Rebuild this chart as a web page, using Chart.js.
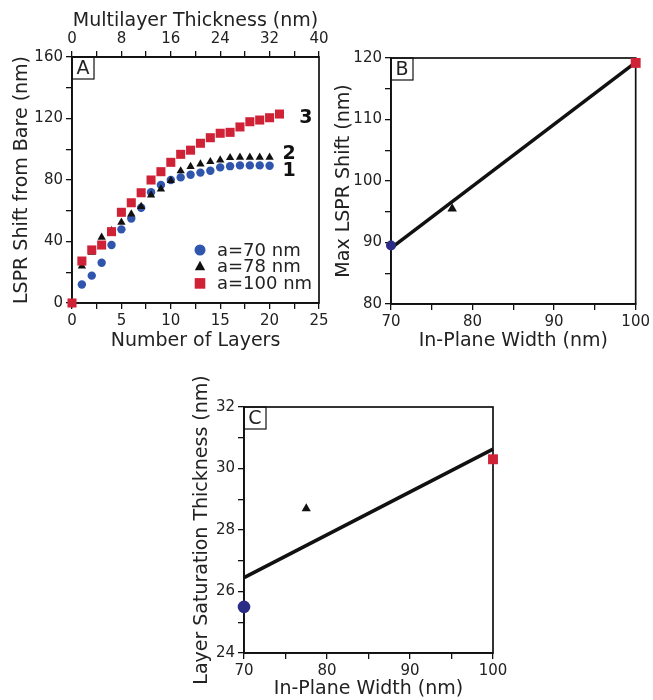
<!DOCTYPE html>
<html>
<head>
<meta charset="utf-8">
<script src="https://cdn.jsdelivr.net/npm/chart.js@4.4.1/dist/chart.umd.min.js"></script>
<style>
body { margin: 0; background: #fff; }
#wrap { position: relative; width: 653px; height: 700px; overflow: hidden; }
canvas { position: absolute; }
</style>
</head>
<body>
<div id="wrap">
  <canvas id="chartA" width="340" height="352" style="left:0px;top:0px"></canvas>
  <canvas id="chartB" width="323" height="352" style="left:330px;top:0px"></canvas>
  <canvas id="chartC" width="340" height="345" style="left:180px;top:355px"></canvas>
</div>
<script>
// panel A: LSPR shift vs number of layers
const layers20 = [0, 1, 2, 3, 4, 5, 6, 7, 8, 9, 10, 11, 12, 13, 14, 15, 16, 17, 18, 19, 20];
const layers21 = [0, 1, 2, 3, 4, 5, 6, 7, 8, 9, 10, 11, 12, 13, 14, 15, 16, 17, 18, 19, 20, 21];
const shift70 = [0, 12, 17.8, 26.2, 37.7, 47.9, 54.9, 62, 72, 76.7, 80, 81.7, 83.4, 84.8, 86, 88.2, 89, 89.5, 89.5, 89.5, 89.3];
const shift78 = [0, 24, 33, 42.7, 47, 52.5, 57.9, 62.7, 70.2, 74.1, 79.6, 85.9, 88.7, 90.4, 91.9, 93, 94.5, 94.8, 94.8, 94.8, 94.8];
const shift100 = [0, 27.3, 34.5, 37.7, 46.4, 59, 65.2, 71.7, 80, 85.4, 91.5, 96.7, 99.4, 103.9, 107.5, 110.4, 111, 114.5, 117.9, 119, 120.5, 122.9];
const seriesNames = ['a=70 nm', 'a=78 nm', 'a=100 nm'];
const curveLabels = ['1', '2', '3'];
const curveLabelX = [21.3, 21.3, 23.0];
const curveLabelY = [86, 97, 120.3];

// panels B and C: values vs in-plane width
const widths = [70, 77.5, 100];
const maxShift = [89.5, 95.5, 119.2];
const fitBx = [70, 100];
const fitBy = [89.1, 119.3];
const satThickness = [25.5, 28.7, 30.3];
const fitCx = [70, 100];
const fitCy = [26.45, 30.63];

const blueA = '#2f55ad';
const blueB = '#2b2c86';
const red = '#cf2237';
const black = '#111111';

Chart.defaults.font.family = '"DejaVu Sans", sans-serif';
Chart.defaults.color = '#222';
Chart.defaults.animation = false;

function pts(xs, ys) {
    return xs.map((x, i) => ({ x: x, y: ys[i] }));
}

function drawMarker(ctx, style, color, r, x, y) {
    ctx.fillStyle = color;
    ctx.beginPath();
    if (style === 'circle') {
        ctx.arc(x, y, r, 0, Math.PI * 2);
    } else if (style === 'triangle') {
        ctx.moveTo(x, y - r);
        ctx.lineTo(x + r * 0.866, y + r * 0.5 + 0.5);
        ctx.lineTo(x - r * 0.866, y + r * 0.5 + 0.5);
        ctx.closePath();
    } else {
        const s = r * Math.SQRT1_2;
        ctx.rect(x - s, y - s, 2 * s, 2 * s);
    }
    ctx.fill();
}

// fixed size for an axis box so that the plot areas line up with the reference
function fixSize(size) {
    return function (scale) {
        if (scale.isHorizontal()) scale.height = size;
        else scale.width = size;
    };
}

function axis(min, max, step, major, title, pos, boxSize, titlePad) {
    return {
        type: 'linear',
        position: pos,
        min: min,
        max: max,
        afterFit: fixSize(boxSize),
        grid: { drawOnChartArea: false, drawTicks: true, tickLength: 6, color: black, lineWidth: 1.3 },
        border: { color: black, width: 1.7 },
        ticks: {
            stepSize: step,
            autoSkip: false,
            maxRotation: 0,
            padding: 3,
            font: { size: 15 },
            callback: function (v) {
                return Math.abs(v % major) < 1e-6 ? v : '';
            }
        },
        title: { display: true, text: title, font: { size: 19 }, color: '#222', padding: titlePad }
    };
}

const framePlugin = {
    id: 'frame',
    beforeDatasetsDraw(chart, args, opts) {
        const ctx = chart.ctx;
        const a = chart.chartArea;
        ctx.save();
        ctx.strokeStyle = black;
        ctx.lineWidth = 1.7;
        ctx.strokeRect(a.left, a.top, a.right - a.left, a.bottom - a.top);
        ctx.lineWidth = 1.2;
        ctx.strokeRect(a.left, a.top, 22, 22);
        ctx.fillStyle = '#222';
        ctx.font = '19px "DejaVu Sans"';
        ctx.textAlign = 'center';
        ctx.textBaseline = 'middle';
        ctx.fillText(opts.letter, a.left + 11, a.top + 12);
        ctx.restore();
    }
};

const legendPlugin = {
    id: 'insideLegend',
    afterDatasetsDraw(chart) {
        const ctx = chart.ctx;
        const a = chart.chartArea;
        const styles = [['circle', blueA, 5.5], ['triangle', black, 6], ['rect', red, 7.5]];
        ctx.save();
        ctx.font = '18px "DejaVu Sans"';
        ctx.textAlign = 'left';
        ctx.textBaseline = 'middle';
        seriesNames.forEach((name, i) => {
            const y = a.top + 193 + i * 16.7;
            drawMarker(ctx, styles[i][0], styles[i][1], styles[i][2], a.left + 128, y);
            ctx.fillStyle = '#222';
            ctx.fillText(name, a.left + 145, y + 1);
        });
        // curve numbers next to the saturated ends
        ctx.font = 'bold 19px "DejaVu Sans"';
        ctx.fillStyle = '#111';
        curveLabels.forEach((t, i) => {
            ctx.fillText(t, chart.scales.x.getPixelForValue(curveLabelX[i]), chart.scales.y.getPixelForValue(curveLabelY[i]));
        });
        ctx.restore();
    }
};

new Chart(document.getElementById('chartA').getContext('2d'), {
    type: 'scatter',
    data: {
        datasets: [
            { data: pts(layers20, shift70), pointStyle: 'circle', pointRadius: 4.2, backgroundColor: blueA, borderWidth: 0, order: 2, clip: false },
            { data: pts(layers20, shift78), pointStyle: 'triangle', pointRadius: 4.8, backgroundColor: black, borderWidth: 0, order: 1, clip: false },
            { data: pts(layers21, shift100), pointStyle: 'rect', pointRadius: 6.4, backgroundColor: red, borderWidth: 0, order: 0, clip: false }
        ]
    },
    options: {
        responsive: false,
        devicePixelRatio: 1,
        layout: { padding: { left: 0, right: 21, top: 0, bottom: 0 } },
        plugins: { legend: { display: false }, tooltip: { enabled: false }, frame: { letter: 'A' } },
        scales: {
            x: axis(0, 25, 2.5, 5, 'Number of Layers', 'bottom', 49, { top: 0, bottom: 0 }),
            x2: axis(0, 40, 4, 8, 'Multilayer Thickness (nm)', 'top', 57, { top: 10, bottom: 0 }),
            y: axis(0, 160, 20, 40, 'LSPR Shift from Bare (nm)', 'left', 72, { top: 11, bottom: 0 })
        }
    },
    plugins: [framePlugin, legendPlugin]
});

function widthChart(id, letter, blue, ys, fitX, fitY, yMin, yMax, yStep, yMajor, yTitle, sizes, top, right, yPad, markers) {
    return new Chart(document.getElementById(id).getContext('2d'), {
        type: 'scatter',
        data: {
            datasets: [
                { data: [{ x: widths[0], y: ys[0] }], pointStyle: 'circle', pointRadius: markers[0], backgroundColor: blue, borderWidth: 0, order: 1, clip: false },
                { data: [{ x: widths[1], y: ys[1] }], pointStyle: 'triangle', pointRadius: markers[1], backgroundColor: black, borderWidth: 0, order: 1, clip: false },
                { data: [{ x: widths[2], y: ys[2] }], pointStyle: 'rect', pointRadius: markers[2], backgroundColor: red, borderWidth: 0, order: 0, clip: false },
                { data: pts(fitX, fitY), showLine: true, pointRadius: 0, borderColor: black, borderWidth: 3.5, order: 3, clip: false }
            ]
        },
        options: {
            responsive: false,
            devicePixelRatio: 1,
            layout: { padding: { left: 0, right: right, top: top, bottom: 0 } },
            plugins: { legend: { display: false }, tooltip: { enabled: false }, frame: { letter: letter } },
            scales: {
                x: axis(70, 100, 5, 10, 'In-Plane Width (nm)', 'bottom', sizes[1], { top: 0, bottom: 0 }),
                y: axis(yMin, yMax, yStep, yMajor, yTitle, 'left', sizes[0], { top: yPad, bottom: 0 })
            }
        },
        plugins: [framePlugin]
    });
}

widthChart('chartB', 'B', blueB, maxShift, fitBx, fitBy, 80, 120, 5, 10, 'Max LSPR Shift (nm)', [61, 48], 58, 13, 3, [5, 5.5, 7]);
widthChart('chartC', 'C', blueB, satThickness, fitCx, fitCy, 24, 32, 1, 2, 'Layer Saturation Thickness (nm)', [64, 47], 52, 27, 11, [6.3, 5.3, 7]);
</script>
</body>
</html>
